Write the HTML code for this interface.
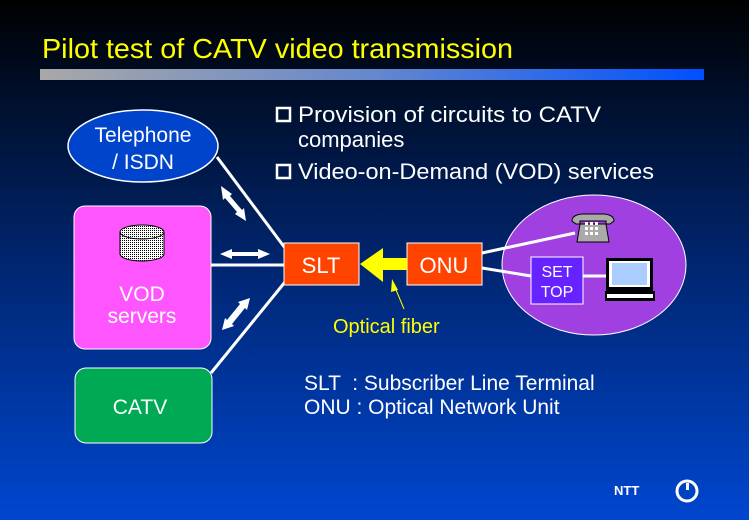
<!DOCTYPE html>
<html><head><meta charset="utf-8"><style>html,body{margin:0;padding:0;}svg{display:block}</style></head>
<body>
<svg width="749" height="520" xmlns="http://www.w3.org/2000/svg" font-family="Liberation Sans, sans-serif">
<defs>
<linearGradient id="bg" x1="0" y1="0" x2="0" y2="1">
<stop offset="0" stop-color="#000000"/>
<stop offset="0.2" stop-color="#00102e"/>
<stop offset="0.5" stop-color="#00256e"/>
<stop offset="1" stop-color="#0046d0"/>
</linearGradient>
<linearGradient id="bar" x1="0" y1="0" x2="1" y2="0">
<stop offset="0" stop-color="#a8a8a8"/>
<stop offset="0.5" stop-color="#6688cc"/>
<stop offset="1" stop-color="#0050ff"/>
</linearGradient>
<pattern id="dots" width="2" height="2" patternUnits="userSpaceOnUse">
<rect width="2" height="2" fill="#fff"/><rect width="1" height="1" fill="#000"/>
</pattern>
</defs>
<rect width="749" height="520" fill="url(#bg)"/>
<text x="42" y="58" font-size="28" fill="#ffff00" textLength="471" lengthAdjust="spacingAndGlyphs">Pilot test of CATV video transmission</text>
<rect x="40" y="69" width="664" height="11" fill="url(#bar)"/>

<!-- bullets -->
<rect x="277" y="108" width="13" height="13" fill="none" stroke="#fff" stroke-width="2.5"/>
<text x="298" y="122" font-size="22" fill="#fff" textLength="303" lengthAdjust="spacingAndGlyphs">Provision of circuits to CATV</text>
<text x="298" y="147" font-size="22" fill="#fff">companies</text>
<rect x="277" y="165" width="13" height="13" fill="none" stroke="#fff" stroke-width="2.5"/>
<text x="298" y="179" font-size="22" fill="#fff" textLength="356" lengthAdjust="spacingAndGlyphs">Video-on-Demand (VOD) services</text>

<!-- lines -->
<g stroke="#fff" stroke-width="3" fill="none">
<line x1="217" y1="157" x2="285" y2="248"/>
<line x1="211" y1="265" x2="285" y2="265"/>
<line x1="211" y1="373" x2="285" y2="282"/>
</g>

<!-- telephone ellipse -->
<ellipse cx="143" cy="146" rx="75" ry="36" fill="#0044cc" stroke="#fff" stroke-width="1.5"/>
<text x="143" y="142" font-size="21" fill="#fff" text-anchor="middle">Telephone</text>
<text x="143" y="169" font-size="21" fill="#fff" text-anchor="middle">/ ISDN</text>

<!-- VOD -->
<rect x="74" y="206" width="137" height="143" rx="11" fill="#ff55ff" stroke="#fff" stroke-width="1"/>
<path d="M120 232 v22 a22 7 0 0 0 44 0 v-22" fill="url(#dots)" stroke="#000" stroke-width="1"/>
<ellipse cx="142" cy="232" rx="22" ry="7" fill="url(#dots)" stroke="#000" stroke-width="1"/>
<text x="142" y="301" font-size="21" fill="#fff" text-anchor="middle">VOD</text>
<text x="142" y="323" font-size="21" fill="#fff" text-anchor="middle">servers</text>

<!-- CATV -->
<rect x="75" y="368" width="137" height="75" rx="11" fill="#00aa55" stroke="#fff" stroke-width="1"/>
<text x="140" y="414" font-size="21" fill="#fff" text-anchor="middle">CATV</text>

<!-- double arrows -->
<g fill="#fff">
<polygon points="221,186 232,194 230,196 242,210 244,208 246,221 235,214 237,212 225,198 223,200"/>
<polygon points="220,254 232,249 232,252 258,252 258,249 270,254 258,259 258,256 232,256 232,259"/>
<polygon points="222,330 225,318 227,320 240,304 238,302 250,298 247,310 245,308 232,324 234,326"/>
</g>

<!-- SLT / ONU -->
<rect x="284" y="243" width="75" height="42" fill="#ff4400" stroke="#fff" stroke-width="1"/>
<text x="321" y="273" font-size="22" fill="#fff" text-anchor="middle">SLT</text>
<rect x="407" y="243" width="75" height="42" fill="#ff4400" stroke="#fff" stroke-width="1"/>
<text x="444" y="273" font-size="22" fill="#fff" text-anchor="middle">ONU</text>
<polygon points="360,264 383,248 383,258 407,258 407,270 383,270 383,282" fill="#ffff00"/>
<line x1="404" y1="309" x2="394" y2="285" stroke="#ffff00" stroke-width="1"/>
<polygon points="392,279 398,290 391,292" fill="#ffff00"/>
<text x="333" y="333" font-size="20" fill="#ffff00">Optical fiber</text>

<!-- home ellipse -->
<ellipse cx="594" cy="265" rx="92" ry="70" fill="#a040e0" stroke="#fff" stroke-width="1"/>
<g stroke="#fff" stroke-width="3">
<line x1="482" y1="253" x2="575" y2="233"/>
<line x1="482" y1="268" x2="531" y2="276"/>
<line x1="583" y1="276" x2="607" y2="276"/>
</g>
<rect x="531" y="257" width="52" height="47" fill="#6622ff" stroke="#fff" stroke-width="1"/>
<text x="557" y="277" font-size="16" fill="#fff" text-anchor="middle">SET</text>
<text x="557" y="297" font-size="16" fill="#fff" text-anchor="middle">TOP</text>
<!-- phone -->
<path d="M572 221 q0-6 10-7 h22 q10 1 10 7 l-4 3 h-4 v-3 h-26 v3 h-4 z" fill="#aaa" stroke="#000" stroke-width="1"/>
<path d="M580 224 h26 l3 18 h-32 z" fill="#aaa" stroke="#000" stroke-width="1"/>
<g fill="#fff"><rect x="585" y="222" width="3" height="3"/><rect x="590" y="222" width="3" height="3"/><rect x="595" y="222" width="3" height="3"/><rect x="585" y="227" width="3" height="3"/><rect x="590" y="227" width="3" height="3"/><rect x="595" y="227" width="3" height="3"/><rect x="585" y="232" width="3" height="3"/><rect x="590" y="232" width="3" height="3"/><rect x="595" y="232" width="3" height="3"/></g>
<!-- TV -->
<rect x="606" y="258" width="47" height="33" fill="#000"/>
<rect x="609" y="261" width="41" height="26" fill="#fff"/>
<rect x="612" y="263" width="35" height="22" fill="#aaccff"/>
<rect x="605" y="291" width="50" height="10" fill="#000"/>
<rect x="607" y="294" width="46" height="4" fill="#fff"/>

<!-- legend -->
<text x="304" y="390" font-size="21" fill="#fff" xml:space="preserve">SLT  : Subscriber Line Terminal</text>
<text x="304" y="414" font-size="21" fill="#fff">ONU : Optical Network Unit</text>

<!-- NTT -->
<text x="614" y="495" font-size="13" font-weight="900" fill="#fff" font-family="Liberation Sans, sans-serif">NTT</text>
<circle cx="687" cy="491" r="10" fill="none" stroke="#fff" stroke-width="3"/>
<rect x="686" y="483" width="3" height="7" fill="#fff"/>
</svg>
</body></html>
